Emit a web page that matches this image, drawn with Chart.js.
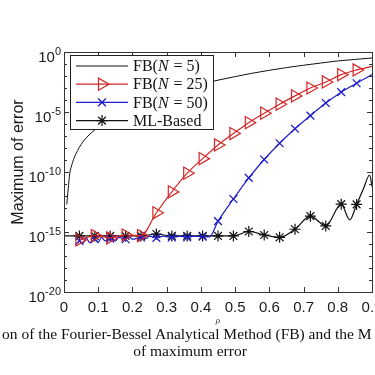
<!DOCTYPE html>
<html>
<head>
<meta charset="utf-8">
<style>
    html, body { margin: 0; padding: 0; width: 375px; height: 375px; overflow: hidden; background: #fff; }
    #wrap { position: absolute; left: 0; top: 0; width: 400px; height: 340px; }
    .cap { position: absolute; font-family: "Liberation Serif", "Times New Roman", serif; font-size: 15.5px; color: #111; white-space: nowrap; }
</style>
</head>
<body>
<div id="wrap"><canvas id="errChart" width="400" height="340"></canvas></div>
<div class="cap" style="left:2px; top:325px;">on of the Fourier-Bessel Analytical Method (FB) and the M</div>
<div class="cap" style="left:0; width:380px; text-align:center; top:342px;">of maximum error</div>
<script src="https://cdn.jsdelivr.net/npm/chart.js@4.4.1/dist/chart.umd.min.js"></script>
<script>
// axis ticks
var xTickValues = [0, 0.1, 0.2, 0.3, 0.4, 0.5, 0.6, 0.7, 0.8, 0.9];
var xTickLabels = ['0', '0.1', '0.2', '0.3', '0.4', '0.5', '0.6', '0.7', '0.8', '0.9'];
var yTickValues = [1, 1e-5, 1e-10, 1e-15, 1e-20];
var yTickExponents = ['0', '-5', '-10', '-15', '-20'];
var yDecades = [1, 1e-1, 1e-2, 1e-3, 1e-4, 1e-5, 1e-6, 1e-7, 1e-8, 1e-9, 1e-10,
    1e-11, 1e-12, 1e-13, 1e-14, 1e-15, 1e-16, 1e-17, 1e-18, 1e-19, 1e-20];

var seriesLabels = ['FB(N = 5)', 'FB(N = 25)', 'FB(N = 50)', 'ML-Based'];
var markerRho = [0.045, 0.09, 0.135, 0.18, 0.225, 0.27, 0.315, 0.36, 0.405, 0.45,
    0.495, 0.54, 0.585, 0.63, 0.675, 0.72, 0.765, 0.81, 0.855];

// FB(N = 5)
var fb5Rho = [0.008, 0.012, 0.017, 0.022, 0.03, 0.04, 0.05, 0.07, 0.09, 0.12, 0.15, 0.2, 0.25,
    0.3, 0.35, 0.4, 0.45, 0.5, 0.55, 0.6, 0.65, 0.7, 0.75, 0.8, 0.85, 0.9];
var fb5Err = [2e-13, 3.2e-12, 8e-11, 3.2e-10, 1.6e-9, 6.3e-9, 2e-8, 1e-7, 3.2e-7, 1.3e-6, 4e-6, 2.5e-5, 1e-4,
    3.2e-4, 8.9e-4, 2e-3, 4.5e-3, 8.9e-3, 1.7e-2, 3e-2, 5e-2, 7.9e-2, 0.12, 0.18, 0.24, 0.32];

// FB(N = 25)
var fb25Rho = [0.045, 0.09, 0.135, 0.18, 0.225, 0.27, 0.315, 0.36, 0.405, 0.45,
    0.495, 0.54, 0.585, 0.63, 0.675, 0.72, 0.765, 0.81, 0.855, 0.9];
var fb25Err = [2.2e-16, 5e-16, 3.2e-16, 5.6e-16, 5e-16, 4e-14, 2.2e-12, 8e-11, 1.3e-9, 1.8e-8,
    1.6e-7, 1.3e-6, 8e-6, 4.5e-5, 2.2e-4, 1e-3, 3.2e-3, 1.3e-2, 3.2e-2, 6.3e-2];

// FB(N = 50)
var fb50Rho = [0.045, 0.055, 0.065, 0.075, 0.09, 0.1, 0.11, 0.12, 0.135, 0.15, 0.16, 0.18, 0.19, 0.2,
    0.225, 0.24, 0.25, 0.27, 0.29, 0.315, 0.34, 0.36, 0.38, 0.405, 0.425, 0.45,
    0.495, 0.54, 0.585, 0.63, 0.675, 0.72, 0.765, 0.81, 0.855, 0.9];
var fb50Err = [1.8e-16, 1.1e-16, 3.2e-16, 1.3e-16, 2.5e-16, 1.4e-16, 3.5e-16, 1.8e-16, 2.8e-16, 1.8e-16, 3.5e-16, 2.5e-16, 4e-16, 2.5e-16,
    3.5e-16, 2.8e-16, 4.5e-16, 3.2e-16, 4.5e-16, 3.5e-16, 4.5e-16, 3.5e-16, 4.5e-16, 4e-16, 4e-16, 8e-15,
    5.6e-13, 3.2e-11, 1.1e-9, 2.5e-8, 4e-7, 5e-6, 5.6e-5, 4.5e-4, 2.5e-3, 1.3e-2];

// ML-Based
var mlRho = [0, 0.045, 0.09, 0.135, 0.18, 0.225, 0.27, 0.315, 0.36, 0.405, 0.45, 0.495, 0.54,
    0.585, 0.63, 0.675, 0.72, 0.765, 0.81, 0.835, 0.855, 0.875, 0.893, 0.9];
var mlErr = [4.7e-16, 4.7e-16, 4.7e-16, 4.7e-16, 4.7e-16, 4.7e-16, 6.8e-16, 4.7e-16, 4.7e-16, 4.7e-16, 4.7e-16, 4.7e-16, 1.1e-15,
    5.6e-16, 3.6e-16, 1.7e-15, 2.1e-14, 3.2e-15, 2.1e-13, 1e-14, 2e-13, 4e-12, 5.6e-11, 6.3e-12];

var RED = 'rgb(212,38,38)';
var BLUE = 'rgb(28,28,200)';
var BLACK = '#111';

function pts(xs, ys) {
    return xs.map(function (v, i) { return {x: v, y: ys[i]}; });
}
function markerSize(r) {
    return function (ctx) {
        var x = ctx.raw ? ctx.raw.x : null;
        for (var i = 0; i < markerRho.length; i++) {
            if (Math.abs(markerRho[i] - x) < 1e-6) return r;
        }
        return 0;
    };
}

var frame = {
    id: 'frame',
    afterDatasetsDraw: function (chart) {
        var ctx = chart.ctx, a = chart.chartArea, x = chart.scales.x, y = chart.scales.y;
        ctx.save();
        ctx.strokeStyle = '#333';
        ctx.lineWidth = 1;
        ctx.strokeRect(a.left + 0.5, a.top + 0.5, a.right - a.left, a.bottom - a.top);
        ctx.beginPath();
        yDecades.forEach(function (v) {
            var py = Math.round(y.getPixelForValue(v)) + 0.5;
            var len = yTickValues.indexOf(v) >= 0 ? 5 : 3;
            ctx.moveTo(a.left, py); ctx.lineTo(a.left + len, py);
            ctx.moveTo(a.right, py); ctx.lineTo(a.right - len, py);
        });
        xTickValues.forEach(function (v) {
            var px = Math.round(x.getPixelForValue(v)) + 0.5;
            ctx.moveTo(px, a.bottom); ctx.lineTo(px, a.bottom - 5);
            ctx.moveTo(px, a.top); ctx.lineTo(px, a.top + 5);
        });
        ctx.stroke();

        // y tick labels with superscript exponents
        ctx.fillStyle = '#1a1a1a';
        ctx.textAlign = 'left';
        ctx.textBaseline = 'alphabetic';
        yTickValues.forEach(function (v, i) {
            var py = y.getPixelForValue(v);
            var right = a.left - 3;
            ctx.font = '11px "Liberation Sans", Arial, sans-serif';
            var ew = ctx.measureText(yTickExponents[i]).width;
            ctx.fillText(yTickExponents[i], right - ew, py + 3);
            ctx.font = '15px "Liberation Sans", Arial, sans-serif';
            var bw = ctx.measureText('10').width;
            ctx.fillText('10', right - ew - bw, py + 10);
        });

        // y axis title
        ctx.save();
        ctx.translate(19, 162);
        ctx.rotate(-Math.PI / 2);
        ctx.textAlign = 'center';
        ctx.textBaseline = 'middle';
        ctx.font = '16px "Liberation Sans", Arial, sans-serif';
        ctx.fillText('Maximum of error', 0, 0);
        ctx.restore();

        // legend inside the plot
        var bx = a.left + 6, by = a.top + 3, bw2 = 143, bh = 74;
        ctx.fillStyle = '#fff';
        ctx.fillRect(bx, by, bw2, bh);
        ctx.strokeStyle = '#222';
        ctx.strokeRect(bx + 0.5, by + 0.5, bw2, bh);
        chart.data.datasets.forEach(function (ds, i) {
            var ry = by + 11 + i * 18.2;
            ctx.strokeStyle = ds.borderColor;
            ctx.lineWidth = ds.borderWidth;
            ctx.beginPath();
            ctx.moveTo(bx + 6, ry); ctx.lineTo(bx + 58, ry);
            ctx.stroke();
            if (ds.pointStyle) {
                ctx.fillStyle = 'rgba(0,0,0,0)';
                ctx.strokeStyle = ds.borderColor;
                ctx.lineWidth = ds.pointBorderWidth;
                Chart.helpers.drawPoint(ctx, {pointStyle: ds.pointStyle, rotation: ds.rotation || 0,
                    radius: ds.legendRadius, borderWidth: ds.pointBorderWidth}, bx + 32, ry);
            }
            var parts = ds.label.split('N');
            var tx = bx + 63;
            ctx.fillStyle = '#111';
            ctx.textAlign = 'left';
            ctx.textBaseline = 'middle';
            parts.forEach(function (p, k) {
                if (k > 0) {
                    ctx.font = 'italic 16px "Liberation Serif", serif';
                    ctx.fillText('N', tx, ry + 1);
                    tx += ctx.measureText('N').width + 1;
                }
                ctx.font = '16px "Liberation Serif", serif';
                ctx.fillText(p, tx, ry + 1);
                tx += ctx.measureText(p).width;
            });
        });
        ctx.restore();
    }
};

var ctx = document.getElementById('errChart').getContext('2d');
var chart = new Chart(ctx, {
    type: 'line',
    data: {
        datasets: [{
            label: seriesLabels[0],
            data: pts(fb5Rho, fb5Err),
            borderColor: BLACK,
            borderWidth: 1,
            pointRadius: 0,
            cubicInterpolationMode: 'monotone'
        }, {
            label: seriesLabels[1],
            data: pts(fb25Rho, fb25Err),
            borderColor: RED,
            borderWidth: 1.2,
            pointStyle: 'triangle',
            rotation: 90,
            pointRadius: markerSize(7),
            legendRadius: 7,
            pointBorderColor: RED,
            pointBackgroundColor: 'rgba(0,0,0,0)',
            pointBorderWidth: 1.2,
            cubicInterpolationMode: 'monotone'
        }, {
            label: seriesLabels[2],
            data: pts(fb50Rho, fb50Err),
            borderColor: BLUE,
            borderWidth: 1.2,
            pointStyle: 'crossRot',
            pointRadius: markerSize(5.5),
            legendRadius: 5.5,
            pointBorderColor: BLUE,
            pointBorderWidth: 1.3,
            cubicInterpolationMode: 'monotone'
        }, {
            label: seriesLabels[3],
            data: pts(mlRho, mlErr),
            borderColor: BLACK,
            borderWidth: 1.2,
            pointStyle: 'star',
            pointRadius: markerSize(5.5),
            legendRadius: 5.5,
            pointBorderColor: BLACK,
            pointBorderWidth: 1.2,
            cubicInterpolationMode: 'monotone'
        }]
    },
    options: {
        responsive: false,
        animation: false,
        events: [],
        layout: { padding: { left: 0, right: 28, top: 52, bottom: 0 } },
        plugins: { legend: { display: false }, tooltip: { enabled: false } },
        scales: {
            x: {
                type: 'linear',
                min: 0,
                max: 0.9,
                grid: { display: false, drawTicks: false },
                border: { display: false },
                afterBuildTicks: function (scale) {
                    scale.ticks = xTickValues.map(function (v) { return {value: v}; });
                },
                afterFit: function (scale) { scale.height = 48; },
                ticks: {
                    padding: 7,
                    color: '#1a1a1a',
                    font: { family: '"Liberation Sans", Arial, sans-serif', size: 15 },
                    maxRotation: 0,
                    callback: function (v, i) { return xTickLabels[i]; }
                },
                title: {
                    display: true,
                    text: 'ρ',
                    color: '#333',
                    font: { family: '"Liberation Serif", serif', size: 9, style: 'italic' },
                    padding: { top: 0, bottom: 14 }
                }
            },
            y: {
                type: 'logarithmic',
                min: 1e-20,
                max: 1,
                grid: { display: false, drawTicks: false },
                border: { display: false },
                ticks: { display: false },
                afterFit: function (scale) { scale.width = 64; }
            }
        }
    },
    plugins: [frame]
});
</script>
</body>
</html>
